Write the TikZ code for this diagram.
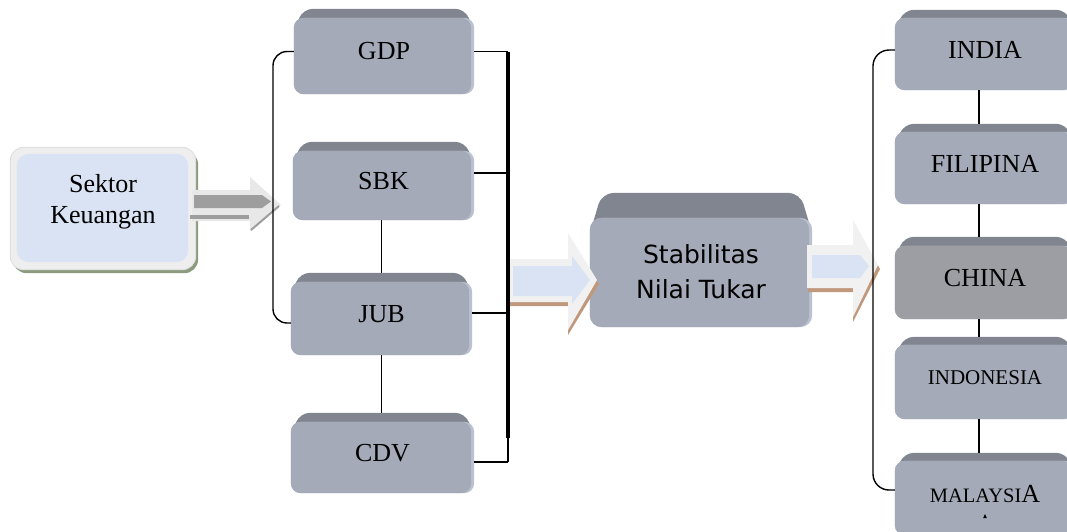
\documentclass[tikz,border=0pt]{standalone}
\usepackage{fontspec}
\setmainfont{Liberation Serif}
\newfontfamily\labelsans{DejaVu Sans}
\usetikzlibrary{calc,backgrounds}

\definecolor{boxbody}{RGB}{164,170,183}
\definecolor{boxband}{RGB}{128,133,143}
\definecolor{boxedge}{RGB}{186,194,210}
\definecolor{chinabody}{RGB}{156,158,164}
\definecolor{paleblue}{RGB}{218,227,243}
\definecolor{framegray}{RGB}{238,238,238}
\definecolor{framerim}{RGB}{222,222,222}
\definecolor{mossshadow}{RGB}{140,155,125}
\definecolor{arrowgray}{RGB}{158,158,158}
\definecolor{arrowpale}{RGB}{232,232,232}
\definecolor{arrowshadow}{RGB}{192,152,124}
\definecolor{arrowrim}{RGB}{241,241,241}

% bevelled tile: node, band depth, chamfer, corner radius, body colour
\newcommand\bevelfill[5]{%
  \fill[boxband, rounded corners=#4] ($(#1.north west)+(0,#2+#4+4)$) -- ($(#1.north west)+(#3,0)$)
    -- ($(#1.north east)+(-#3,0)$) -- ($(#1.north east)+(0,#2+#4+4)$) -- cycle;
  \fill[boxedge, rounded corners=#4] ($(#1.north west)+(0,#2)$) rectangle (#1.south east);
  \fill[#5, rounded corners=#4] ($(#1.north west)+(0,#2)$) rectangle ($(#1.south east)+(-3,0)$);
}

\tikzset{
  tile/.style={inner sep=0pt, font=\fontsize{26}{31}\selectfont},
  link/.style={draw=black, line width=1.4pt},
  busline/.style={draw=black, line width=3.2pt},
}

\begin{document}
\begin{tikzpicture}[x=1pt, y=-1pt, line join=round]
\useasboundingbox (0,0) rectangle (1067,531);

% ---- tiles ----
\node[tile, minimum width=186pt, minimum height=123pt] (sektor) at (103,208.5) {};
\node[tile, align=center] (sektor-text) at (103,202) {Sektor\\[0pt]Keuangan};

\node[tile, minimum width=180pt, minimum height=85pt] (gdp) at (384,51.5) {GDP};
\node[tile, minimum width=181pt, minimum height=78pt] (sbk) at (383.5,181) {SBK};
\node[tile, minimum width=181pt, minimum height=82pt] (jub) at (381.5,314) {JUB};
\node[tile, minimum width=183pt, minimum height=80pt] (cdv) at (382.5,453) {CDV};

\node[tile, minimum width=222pt, minimum height=134pt] (stab) at (701,260) {};
\node[font=\labelsans\fontsize{25}{35}\selectfont, align=center, inner sep=0pt]
  (stab-text) at (701,272) {Stabilitas\\Nilai Tukar};

\node[tile, minimum width=180pt, minimum height=80pt] (india) at (985,50) {INDIA};
\node[tile, minimum width=180pt, minimum height=80pt] (filipina) at (985,164) {FILIPINA};
\node[tile, minimum width=180pt, minimum height=82pt] (china) at (985,278) {CHINA};
\node[tile, minimum width=180pt, minimum height=82pt, font=\fontsize{21}{25}\selectfont]
  (indonesia) at (985,378) {INDONESIA};
\node[tile, minimum width=180pt, minimum height=82pt] (malaysia) at (985,494)
  {{\fontsize{20.5}{25}\selectfont MALAYSI}A};

\begin{scope}[on background layer]
  % source box with its frame and shadow
  \fill[mossshadow, rounded corners=14] ($(sektor.north west)+(3,4)$) rectangle ($(sektor.south east)+(2,3)$);
  \fill[framerim, rounded corners=14] (sektor.north west) rectangle (sektor.south east);
  \fill[framegray, rounded corners=13] ($(sektor.north west)+(1,1)$) rectangle ($(sektor.south east)+(-1,-1)$);
  \fill[paleblue, rounded corners=12] ($(sektor.north west)+(7,7)$) rectangle ($(sektor.south east)+(-8,-8)$);

  \bevelfill{gdp}{9}{9}{10}{boxbody}
  \bevelfill{sbk}{9}{9}{10}{boxbody}
  \bevelfill{jub}{9}{9}{10}{boxbody}
  \bevelfill{cdv}{9}{9}{10}{boxbody}
  \bevelfill{stab}{25}{12}{12}{boxbody}
  \bevelfill{india}{8}{9}{10}{boxbody}
  \bevelfill{filipina}{8}{9}{10}{boxbody}
  \bevelfill{china}{9}{9}{10}{chinabody}
  \bevelfill{indonesia}{8}{9}{10}{boxbody}
  \bevelfill{malaysia}{8}{9}{10}{boxbody}

  % arrow out of the source box
  \fill[arrowpale] (192,190) -- (250,190) -- (250,177) -- (281,205) -- (250,231) -- (250,221) -- (192,221) -- cycle;
  \fill[arrowgray] (194,195) -- (262,195) -- (271,201.5) -- (262,208) -- (194,208) -- cycle;
  \fill[arrowgray] (190,215) rectangle (249,219);
  \draw[arrowgray, line width=2pt] (251,230) -- (279,206);

  % block arrow into the exchange-rate box
  \fill[arrowshadow] (509,263) -- (568,263) -- (568,237) -- (599,284) -- (568,335) -- (568,306) -- (509,306) -- cycle;
  \fill[arrowrim] (509,259) -- (568,259) -- (568,233) -- (597,280) -- (568,330) -- (568,302) -- (509,302) -- cycle;
  \fill[paleblue] (513,266) -- (572,266) -- (572,256) -- (590,280) -- (572,304) -- (572,296) -- (513,296) -- cycle;

  % block arrow towards the countries
  \fill[arrowshadow] (808,249) -- (853,249) -- (853,225) -- (880,269) -- (853,322) -- (853,292) -- (808,292) -- cycle;
  \fill[arrowrim] (807,245) -- (853,245) -- (853,220) -- (878,265) -- (853,317) -- (853,288) -- (807,288) -- cycle;
  \fill[paleblue] (812,255) -- (860,255) -- (869,266) -- (860,278) -- (812,278) -- cycle;
\end{scope}

% small mark under the last country name
\fill ($(malaysia.center)+(-1.8,24)$) -- ($(malaysia.center)+(1.8,24)$) -- ($(malaysia.center)+(0,20)$) -- cycle;

% ---- connectors, left group ----
\draw[link, rounded corners=14] (gdp.west) -| (273,200) |- ($(jub.west)+(0,9)$);
\draw[link] (jub.north |- sbk.south) -- (jub.north);
\draw[link] (jub.south) -- (jub.south |- cdv.north);

\coordinate (bustop) at (508,51.5);
\coordinate (busknee) at (508,438);
\coordinate (busend) at (508,462);
\draw[link] (gdp.east) -- (bustop);
\draw[link] ($(sbk.east)+(0,-8)$) -- ($(sbk.east -| bustop)+(0,-8)$);
\draw[link] ($(jub.east)+(0,-1)$) -- ($(jub.east -| bustop)+(0,-1)$);
\draw[link] ($(cdv.east)+(0,9)$) -- (busend);
\draw[busline] (bustop) -- (busknee);
\draw[link] (busknee) -- (busend);

% ---- connectors, country group ----
\draw[link, rounded corners=16] (india.west) -| (873,270) |- ($(malaysia.west)+(0,-4)$);
\draw[link] ($(india.south)+(-6,0)$) -- ($(filipina.north)+(-6,0)$);
\draw[link] ($(filipina.south)+(-6,0)$) -- ($(china.north)+(-6,0)$);
\draw[link] ($(china.south)+(-6,0)$) -- ($(indonesia.north)+(-6,0)$);
\draw[link] ($(indonesia.south)+(-6,0)$) -- ($(malaysia.north)+(-6,0)$);
\end{tikzpicture}
\end{document}
